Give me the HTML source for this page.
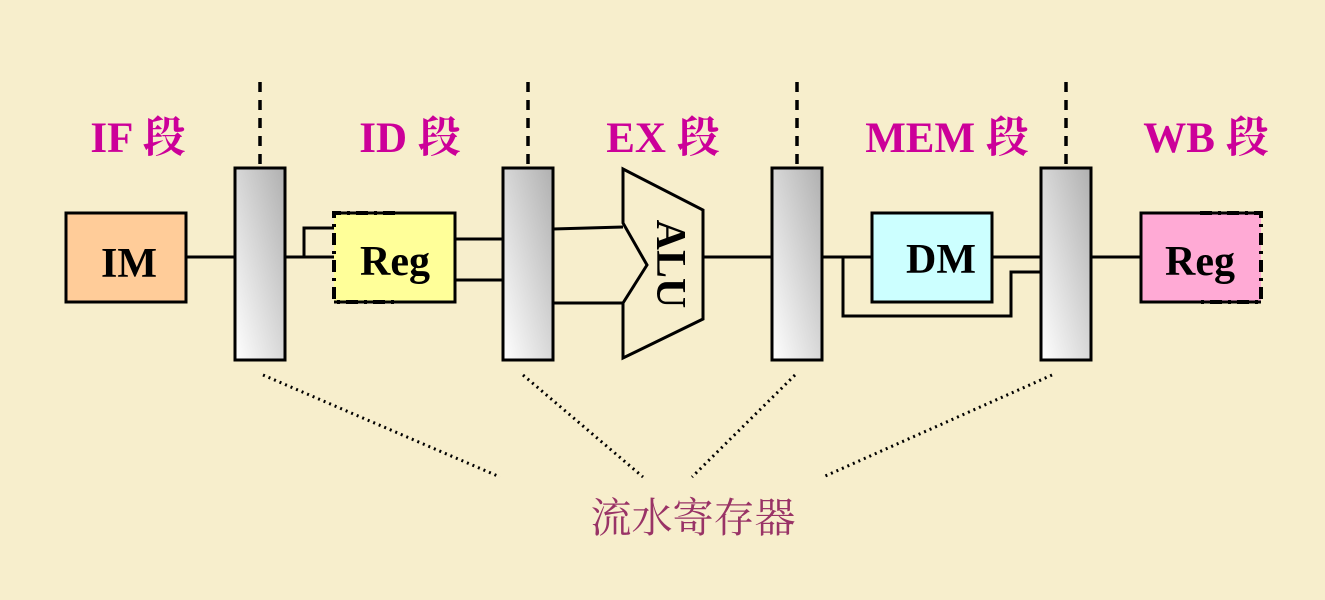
<!DOCTYPE html>
<html><head><meta charset="utf-8"><style>
html,body{margin:0;padding:0;background:#f7eecc;}
svg{display:block}
.lbl{font-family:"Liberation Serif","Noto Serif CJK SC",serif;font-weight:bold;font-size:43px;fill:#cc0099}
.box{font-family:"Liberation Serif",serif;font-weight:bold;font-size:42px;fill:#000}
</style></head><body>
<svg width="1325" height="600" viewBox="0 0 1325 600" xmlns="http://www.w3.org/2000/svg">
<defs>
<linearGradient id="g" x1="0" y1="1" x2="1" y2="0">
<stop offset="0" stop-color="#ffffff"/><stop offset="1" stop-color="#b0b0b0"/>
</linearGradient>
</defs>
<rect width="1325" height="600" fill="#f7eecc"/>
<g class="lbl">
<text x="138" y="152" text-anchor="middle">IF 段</text>
<text x="410" y="152" text-anchor="middle">ID 段</text>
<text x="663" y="152" text-anchor="middle">EX 段</text>
<text x="947" y="152" text-anchor="middle">MEM 段</text>
<text x="1206" y="152" text-anchor="middle">WB 段</text>
</g>
<g stroke="#000" stroke-width="3.5" stroke-dasharray="10,8" fill="none">
<line x1="260" y1="82" x2="260" y2="168"/>
<line x1="528" y1="82" x2="528" y2="168"/>
<line x1="797" y1="82" x2="797" y2="168"/>
<line x1="1066" y1="82" x2="1066" y2="168"/>
</g>
<g stroke="#000" stroke-width="3" fill="none">
<line x1="186" y1="257" x2="235" y2="257"/>
<line x1="285" y1="257" x2="334" y2="257"/>
<polyline points="304,257 304,228 334,228"/>
<line x1="455" y1="239" x2="503" y2="239"/>
<line x1="455" y1="280" x2="503" y2="280"/>
<line x1="553" y1="229" x2="623" y2="227"/>
<line x1="553" y1="303" x2="623" y2="303"/>
<line x1="703" y1="257" x2="772" y2="257"/>
<line x1="822" y1="257" x2="872" y2="257"/>
<polyline points="843,257 843,316 1011,316 1011,272 1041,272"/>
<line x1="992" y1="257" x2="1041" y2="257"/>
<line x1="1091" y1="257" x2="1141" y2="257"/>
</g>
<rect x="66" y="213" width="120" height="89" fill="#ffcc99" stroke="#000" stroke-width="3"/>
<text class="box" x="129" y="277" text-anchor="middle">IM</text>
<rect x="334" y="213" width="121" height="89" fill="#ffff99"/>
<polyline points="334,213 455,213 455,302 334,302" fill="none" stroke="#000" stroke-width="3"/>
<polyline points="395,213 334,213 334,302 395,302" fill="none" stroke="#000" stroke-width="4" stroke-dasharray="12,6,3,6"/>
<line x1="395" y1="213" x2="455" y2="213" stroke="#000" stroke-width="3"/>
<text class="box" x="395" y="275" text-anchor="middle">Reg</text>
<polygon points="623,169 703,210 703,319 623,358 623,303 647,265 623,223" fill="#f7eecc" stroke="#000" stroke-width="3"/>
<text class="box" transform="translate(657,264) rotate(90)" text-anchor="middle" font-size="44">ALU</text>
<rect x="872" y="213" width="120" height="89" fill="#ccffff" stroke="#000" stroke-width="3"/>
<text class="box" x="941" y="273" text-anchor="middle">DM</text>
<rect x="1141" y="213" width="120" height="89" fill="#ffaad5"/>
<polyline points="1261,213 1141,213 1141,302 1261,302" fill="none" stroke="#000" stroke-width="3"/>
<polyline points="1200,213 1261,213 1261,302 1200,302" fill="none" stroke="#000" stroke-width="4" stroke-dasharray="12,6,3,6"/>
<text class="box" x="1200" y="275" text-anchor="middle">Reg</text>
<g fill="url(#g)" stroke="#000" stroke-width="3">
<rect x="235" y="168" width="50" height="192"/>
<rect x="503" y="168" width="50" height="192"/>
<rect x="772" y="168" width="50" height="192"/>
<rect x="1041" y="168" width="50" height="192"/>
</g>
<g stroke="#000" stroke-width="3" stroke-dasharray="2,4" fill="none">
<line x1="263" y1="375" x2="500" y2="477"/>
<line x1="523" y1="375" x2="643" y2="477"/>
<line x1="795" y1="375" x2="692" y2="477"/>
<line x1="1052" y1="375" x2="823" y2="477"/>
</g>
<text x="693" y="532" text-anchor="middle" font-family="'Noto Serif CJK SC','Noto Sans CJK SC',serif" font-size="41" fill="#993366">流水寄存器</text>
</svg>
</body></html>
